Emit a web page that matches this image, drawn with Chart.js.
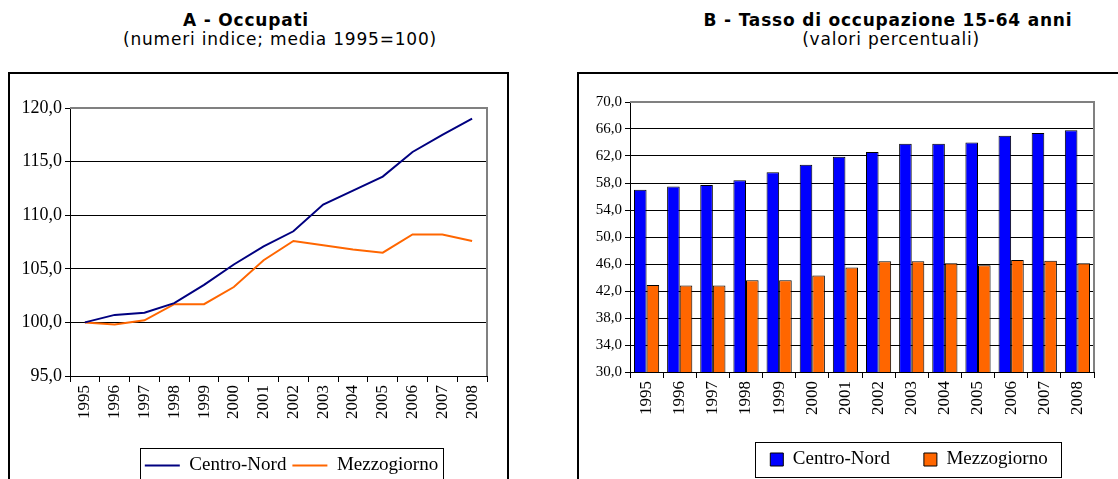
<!DOCTYPE html>
<html>
<head>
<meta charset="utf-8">
<script src="https://cdn.jsdelivr.net/npm/chart.js@4.4.1/dist/chart.umd.min.js"></script>
<style>
  body { margin: 0; width: 1118px; height: 479px; overflow: hidden; background: #fff; position: relative; font-family: "DejaVu Sans", sans-serif; color: #000; }
  .titolo { position: absolute; font-weight: bold; font-size: 17px; letter-spacing: 0.8px; transform: translateX(-50%); white-space: nowrap; }
  .sotto { position: absolute; font-size: 17px; letter-spacing: 0.8px; transform: translateX(-50%); white-space: nowrap; }
  .riquadro { position: absolute; top: 72px; height: 500px; border: 2px solid #000; }
  canvas { position: absolute; }
</style>
</head>
<body>
<div class="titolo" style="left:246px; top:10px">A - Occupati</div>
<div class="sotto" style="left:280px; top:29px">(numeri indice; media 1995=100)</div>
<div class="titolo" style="left:888px; top:10px">B - Tasso di occupazione 15-64 anni</div>
<div class="sotto" style="left:891px; top:29px">(valori percentuali)</div>

<div class="riquadro" style="left:8px; width:497px"></div>
<div class="riquadro" style="left:577px; width:600px"></div>

<canvas id="graficoOccupati" width="497" height="411" style="left:10px; top:74px"></canvas>
<canvas id="graficoTasso" width="539" height="411" style="left:579px; top:74px"></canvas>

<script>
const anni = ["1995", "1996", "1997", "1998", "1999", "2000", "2001", "2002", "2003", "2004", "2005", "2006", "2007", "2008"];

// A - occupati, numeri indice (1995=100)
const occupatiCentroNord = [100.0, 100.7, 100.9, 101.8, 103.5, 105.4, 107.1, 108.5, 111.0, 112.3, 113.6, 115.9, 117.5, 119.0];
const occupatiMezzogiorno = [100.0, 99.8, 100.2, 101.7, 101.7, 103.3, 105.8, 107.6, 107.2, 106.8, 106.5, 108.2, 108.2, 107.6];
const tickOccupati = [95, 100, 105, 110, 115, 120];

// B - tasso di occupazione 15-64 anni
const tassoCentroNord = [57.0, 57.5, 57.7, 58.4, 59.6, 60.7, 61.9, 62.6, 63.8, 63.8, 64.0, 65.0, 65.4, 65.8];
const tassoMezzogiorno = [42.9, 42.8, 42.8, 43.6, 43.6, 44.3, 45.5, 46.4, 46.4, 46.1, 45.8, 46.6, 46.5, 46.1];
const tickTasso = [30, 34, 38, 42, 46, 50, 54, 58, 62, 66, 70];

Chart.defaults.font.family = "'Liberation Serif', 'Times New Roman', serif";
Chart.defaults.color = "#000";

function formatta(v) {
  return Number(v).toFixed(1).replace(".", ",");
}

// bordo grigio dell'area del grafico e riquadro della legenda
const cornice = {
  id: "cornice",
  afterLayout(chart, args, opts) {
    const l = chart.legend;
    if (l && opts.dx) {
      l.left += opts.dx;
      l.right += opts.dx;
    }
  },
  beforeDatasetsDraw(chart) {
    const { ctx, chartArea: a } = chart;
    ctx.save();
    ctx.strokeStyle = "#808080";
    ctx.lineWidth = 2;
    ctx.beginPath();
    ctx.moveTo(a.left, a.top);
    ctx.lineTo(a.right, a.top);
    ctx.lineTo(a.right, a.bottom);
    ctx.stroke();
    ctx.restore();
  },
  afterDraw(chart, args, opts) {
    const hb = chart.legend && chart.legend.legendHitBoxes;
    if (!hb || !hb.length) return;
    const x0 = Math.min(...hb.map(h => h.left)) - opts.padL;
    const x1 = Math.max(...hb.map(h => h.left + h.width)) + opts.padR;
    const y0 = Math.min(...hb.map(h => h.top)) - opts.padY;
    const y1 = Math.max(...hb.map(h => h.top + h.height)) + opts.padY;
    const ctx = chart.ctx;
    ctx.save();
    ctx.strokeStyle = "#000";
    ctx.lineWidth = 1;
    ctx.strokeRect(Math.round(x0) + 0.5, Math.round(y0) + 0.5, Math.round(x1 - x0), Math.round(y1 - y0));
    ctx.restore();
  }
};

function scalaY(tickValori, larghezza, fontSize) {
  const max = tickValori[tickValori.length - 1];
  return {
    min: tickValori[0],
    max: max,
    afterBuildTicks: s => { s.ticks = tickValori.map(v => ({ value: v })); },
    afterFit: s => { s.width = larghezza; },
    ticks: { font: { size: fontSize }, padding: 3, callback: v => formatta(v) },
    grid: {
      color: c => (c.tick && c.tick.value === max ? "#808080" : "#000"),
      tickColor: "#000",
      tickLength: 5
    },
    border: { color: "#000", width: 1 }
  };
}

function scalaX(altezza) {
  return {
    offset: true,
    afterFit: s => { s.height = altezza; },
    ticks: { minRotation: 90, maxRotation: 90, autoSkip: false, font: { size: 17 }, padding: 3 },
    grid: { offset: true, drawOnChartArea: false, color: "#000", tickLength: 6 },
    border: { color: "#000", width: 1 }
  };
}

new Chart(document.getElementById("graficoOccupati"), {
  type: "line",
  data: {
    labels: anni,
    datasets: [
      { label: "Centro-Nord", data: occupatiCentroNord, borderColor: "#000080", backgroundColor: "#000080", borderWidth: 2, pointRadius: 0, tension: 0 },
      { label: "Mezzogiorno", data: occupatiMezzogiorno, borderColor: "#FF6600", backgroundColor: "#FF6600", borderWidth: 2, pointRadius: 0, tension: 0 }
    ]
  },
  options: {
    responsive: false,
    animation: false,
    layout: { padding: { left: 0, right: 20, top: 34, bottom: 0 } },
    scales: {
      x: scalaX(74),
      y: scalaY(tickOccupati, 60, 18)
    },
    plugins: {
      tooltip: { enabled: false },
      legend: {
        position: "bottom",
        fullSize: false,
        labels: { usePointStyle: true, pointStyle: "line", pointStyleWidth: 35, padding: 6, font: { size: 19 } }
      },
      cornice: { dx: 13, padL: 5, padR: 5, padY: 8 }
    }
  },
  plugins: [cornice]
});

new Chart(document.getElementById("graficoTasso"), {
  type: "bar",
  data: {
    labels: anni,
    datasets: [
      { label: "Centro-Nord", data: tassoCentroNord, backgroundColor: "#0000FF", borderColor: "#000", borderWidth: 1, borderSkipped: false },
      { label: "Mezzogiorno", data: tassoMezzogiorno, backgroundColor: "#FF6600", borderColor: "#000", borderWidth: 1, borderSkipped: false }
    ]
  },
  options: {
    responsive: false,
    animation: false,
    categoryPercentage: 0.76,
    barPercentage: 1.0,
    layout: { padding: { left: 0, right: 24, top: 28, bottom: 6 } },
    scales: {
      x: scalaX(44),
      y: scalaY(tickTasso, 51, 15)
    },
    plugins: {
      tooltip: { enabled: false },
      legend: {
        position: "bottom",
        fullSize: false,
        labels: { boxWidth: 13, boxHeight: 13, padding: 34, font: { size: 19 } }
      },
      cornice: { dx: 47, padL: 15, padR: 14, padY: 8 }
    }
  },
  plugins: [cornice]
});
</script>
</body>
</html>
